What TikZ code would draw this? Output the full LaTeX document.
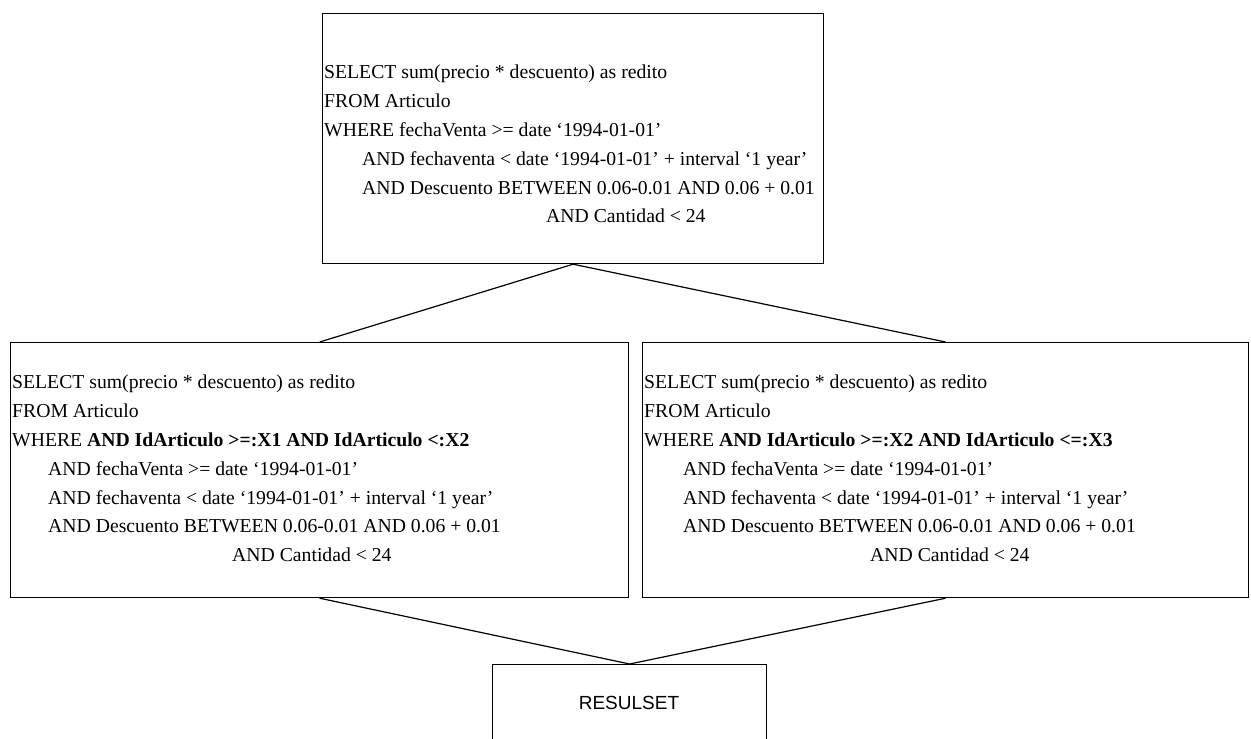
\documentclass[tikz,border=0pt]{standalone}
\usepackage{fontspec}
\setmainfont{Liberation Serif}
\newfontfamily\arialfont{Liberation Sans}
\begin{document}
\begin{tikzpicture}[x=1pt,y=-1pt,
  qbox/.style={draw, line width=1.2pt, rectangle, inner sep=0pt, anchor=north west},
  sqltext/.style={anchor=north west, inner sep=0pt, align=left,
    font=\fontsize{19.7}{28.8}\selectfont},
  link/.style={line width=1.2pt}]
\useasboundingbox (0,0) rectangle (1251,739);
\clip (0,0) rectangle (1251,739);

% query boxes
\node[qbox, minimum width=501pt, minimum height=250pt] (top) at (322,13) {};
\node[qbox, minimum width=618pt, minimum height=255pt] (left) at (10,342) {};
\node[qbox, minimum width=606pt, minimum height=255pt] (right) at (642,342) {};
\node[qbox, minimum width=274pt, minimum height=120pt] (res) at (492,664) {};

% query texts
\node[sqltext] (toptext) at (324,65) {SELECT sum(precio * descuento) as redito\\
FROM Articulo\\
WHERE fechaVenta >= date `1994-01-01'\\
\hspace*{38pt}AND fechaventa < date `1994-01-01' + interval `1 year'\\
\hspace*{38pt}AND Descuento BETWEEN 0.06-0.01 AND 0.06 + 0.01\\
\hspace*{222pt}AND Cantidad < 24};

\node[sqltext] (lefttext) at (12,375) {SELECT sum(precio * descuento) as redito\\
FROM Articulo\\
WHERE \textbf{AND IdArticulo >=:X1 AND IdArticulo <:X2}\\
\hspace*{36pt}AND fechaVenta >= date `1994-01-01'\\
\hspace*{36pt}AND fechaventa < date `1994-01-01' + interval `1 year'\\
\hspace*{36pt}AND Descuento BETWEEN 0.06-0.01 AND 0.06 + 0.01\\
\hspace*{220pt}AND Cantidad < 24};

\node[sqltext] (righttext) at (644,375) {SELECT sum(precio * descuento) as redito\\
FROM Articulo\\
WHERE \textbf{AND IdArticulo >=:X2 AND IdArticulo <=:X3}\\
\hspace*{39pt}AND fechaVenta >= date `1994-01-01'\\
\hspace*{39pt}AND fechaventa < date `1994-01-01' + interval `1 year'\\
\hspace*{39pt}AND Descuento BETWEEN 0.06-0.01 AND 0.06 + 0.01\\
\hspace*{226pt}AND Cantidad < 24};

\node[font=\arialfont\fontsize{19}{21}\selectfont, inner sep=0pt] (restext) at (629,703) {RESULSET};

% connectors
\draw[link] (top.south) -- (left.north);
\draw[link] (top.south) -- (right.north);
\draw[link] (left.south) -- (res.north);
\draw[link] (right.south) -- (res.north);
\end{tikzpicture}
\end{document}
